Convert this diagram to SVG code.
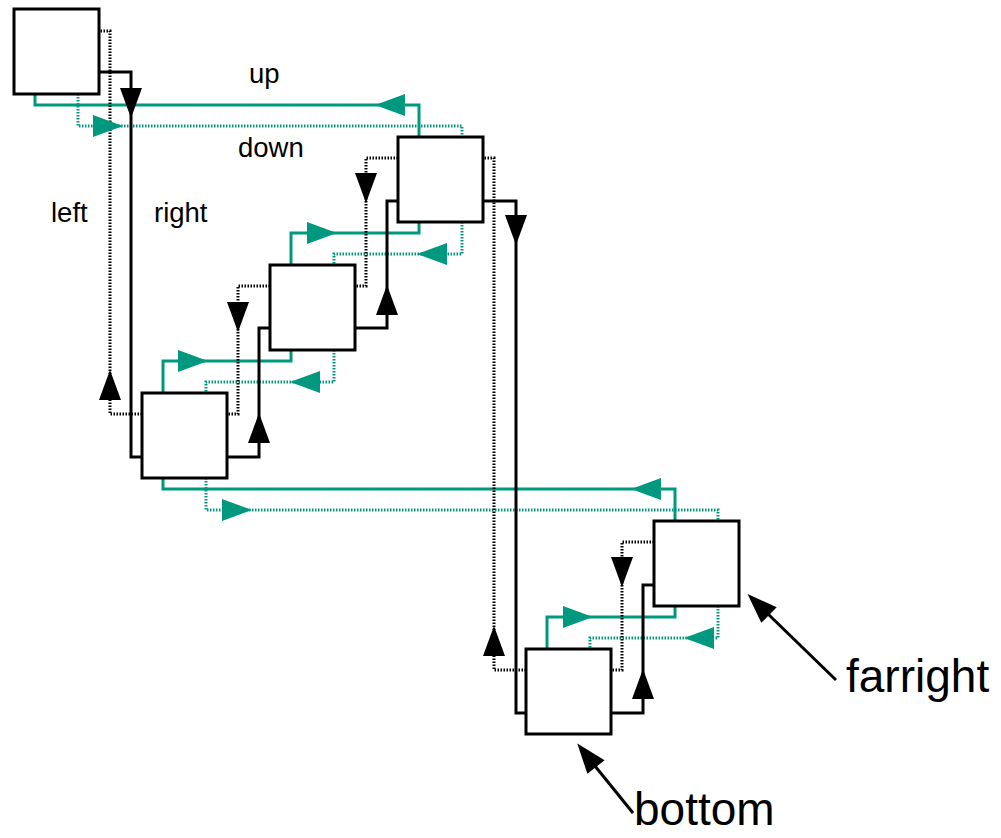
<svg xmlns="http://www.w3.org/2000/svg" xmlns:xlink="http://www.w3.org/1999/xlink" width="1001" height="838" viewBox="0 0 1001 838">
<style>
.bg{fill:#ffffff}
.box{fill:#ffffff;stroke:#000000;stroke-width:3}
.c{fill:none;stroke-linejoin:miter;stroke-linecap:butt}
.bs{stroke:#000000;stroke-width:3}
.bd{stroke:#000000;stroke-width:3;stroke-dasharray:1.5 1.5}
.gs{stroke:#00997f;stroke-width:3}
.gd{stroke:#00997f;stroke-width:3;stroke-dasharray:1.5 1.5}
.ab{fill:#000000}
.ag{fill:#00997f}
.lbl{font-family:"Liberation Sans",Arial,sans-serif;font-size:27.5px;fill:#000000}
.big{font-family:"Liberation Sans",Arial,sans-serif;font-size:46px;fill:#000000}
.ptr{stroke:#000000;stroke-width:3;fill:none}
</style>
<defs>
<path id="ah" d="M0,-11 L30,0 L0,11 Z"/>
</defs>
<rect class="bg" x="0" y="0" width="1001" height="838"/>
<g id="connectors">
<path class="c gs" d="M419,137 V105 H35 V94"/>
<path class="c gs" d="M291,265 V233 H419 V222"/>
<path class="c gs" d="M163,393 V361 H291 V350"/>
<path class="c gs" d="M675,521 V489 H163 V478"/>
<path class="c gs" d="M547,649 V617 H675 V606"/>
<path class="c gd" d="M78,94 V126 H462 V137"/>
<path class="c gd" d="M462,222 V254 H334 V265"/>
<path class="c gd" d="M334,350 V382 H206 V393"/>
<path class="c gd" d="M206,478 V510 H718 V521"/>
<path class="c gd" d="M718,606 V638 H590 V649"/>
<path class="c bd" d="M142,414 H110 V31 H99"/>
<path class="c bd" d="M270,286 H238 V414 H227"/>
<path class="c bd" d="M398,158 H366 V286 H355"/>
<path class="c bd" d="M526,670 H494 V158 H483"/>
<path class="c bd" d="M654,542 H622 V670 H611"/>
<path class="c bs" d="M99,72 H131 V457 H142"/>
<path class="c bs" d="M483,201 H516 V713 H526"/>
<path class="c bs" d="M355,328 H387 V201 H398"/>
<path class="c bs" d="M227,457 H259 V328 H270"/>
<path class="c bs" d="M611,713 H643 V585 H654"/>
<use xlink:href="#ah" class="ag" transform="translate(405,105) rotate(180)"/>
<use xlink:href="#ah" class="ag" transform="translate(93,126)"/>
<use xlink:href="#ah" class="ag" transform="translate(307,233)"/>
<use xlink:href="#ah" class="ag" transform="translate(447,254) rotate(180)"/>
<use xlink:href="#ah" class="ag" transform="translate(178,361)"/>
<use xlink:href="#ah" class="ag" transform="translate(320,382) rotate(180)"/>
<use xlink:href="#ah" class="ag" transform="translate(661,489) rotate(180)"/>
<use xlink:href="#ah" class="ag" transform="translate(222,510)"/>
<use xlink:href="#ah" class="ag" transform="translate(563,617)"/>
<use xlink:href="#ah" class="ag" transform="translate(714,638) rotate(180)"/>
<use xlink:href="#ah" class="ab" transform="translate(131,88) rotate(90)"/>
<use xlink:href="#ah" class="ab" transform="translate(516,215) rotate(90)"/>
<use xlink:href="#ah" class="ab" transform="translate(387,315) rotate(-90)"/>
<use xlink:href="#ah" class="ab" transform="translate(259,443) rotate(-90)"/>
<use xlink:href="#ah" class="ab" transform="translate(643,699) rotate(-90)"/>
<use xlink:href="#ah" class="ab" transform="translate(110,400) rotate(-90)"/>
<use xlink:href="#ah" class="ab" transform="translate(238,302) rotate(90)"/>
<use xlink:href="#ah" class="ab" transform="translate(366,173) rotate(90)"/>
<use xlink:href="#ah" class="ab" transform="translate(494,656) rotate(-90)"/>
<use xlink:href="#ah" class="ab" transform="translate(622,557) rotate(90)"/>
<line class="ptr" x1="836" y1="680" x2="768" y2="614"/>
<use xlink:href="#ah" class="ab" transform="translate(769,615) rotate(224.3)"/>
<line class="ptr" x1="633" y1="813" x2="595" y2="766"/>
<use xlink:href="#ah" class="ab" transform="translate(596,767) rotate(231.4)"/>
</g>
<g id="nodeA"><rect class="box" x="14" y="9" width="85" height="85"/></g>
<g id="nodeB"><rect class="box" x="398" y="137" width="85" height="85"/></g>
<g id="nodeC"><rect class="box" x="270" y="265" width="85" height="85"/></g>
<g id="nodeD"><rect class="box" x="142" y="393" width="85" height="85"/></g>
<g id="nodeE"><rect class="box" x="654" y="521" width="85" height="85"/></g>
<g id="nodeF"><rect class="box" x="526" y="649" width="85" height="85"/></g>
<g id="labels">
<text class="lbl" x="249" y="83">up</text>
<text class="lbl" x="238" y="157">down</text>
<text class="lbl" x="51" y="222">left</text>
<text class="lbl" x="154" y="222">right</text>
<text class="big" x="846" y="692">farright</text>
<text class="big" x="634" y="825">bottom</text>
</g>
</svg>
